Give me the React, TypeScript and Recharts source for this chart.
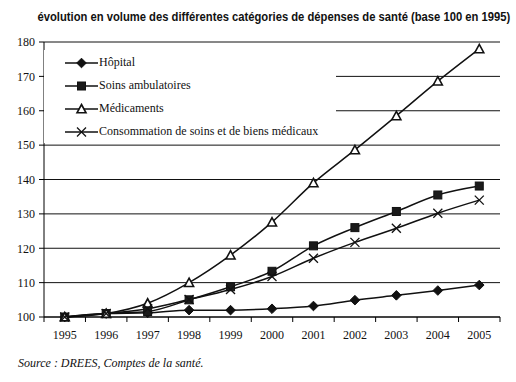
import React, { useLayoutEffect, useRef, useState } from 'react';
import { CartesianGrid, Legend, Line, LineChart, XAxis, YAxis } from 'recharts';

const YEARS = ['1995', '1996', '1997', '1998', '1999', '2000', '2001', '2002', '2003', '2004', '2005'];
const HOPITAL = [100, 101, 101.2, 102, 102, 102.4, 103.2, 104.9, 106.3, 107.7, 109.3];
const SOINS_AMBULATOIRES = [100, 101, 101.6, 105, 108.8, 113.3, 120.7, 126, 130.7, 135.5, 138.1];
const MEDICAMENTS = [100, 101, 104, 110, 118, 127.6, 139, 148.6, 158.5, 168.6, 178];
const CONSOMMATION = [100, 101, 102.4, 105.1, 108, 111.8, 117.1, 121.7, 125.8, 130.2, 134];
const Y_TICKS = [100, 110, 120, 130, 140, 150, 160, 170, 180];

const SERIES = [
  { key: 'hopital', name: 'Hôpital', marker: 'diamond' },
  { key: 'soins', name: 'Soins ambulatoires', marker: 'square' },
  { key: 'medicaments', name: 'Médicaments', marker: 'triangle' },
  { key: 'conso', name: 'Consommation de soins et de biens médicaux', marker: 'cross' },
];

const TITLE = 'évolution en volume des différentes catégories de dépenses de santé (base 100 en 1995)';

const data = YEARS.map((year, i) => ({
  year,
  hopital: HOPITAL[i],
  soins: SOINS_AMBULATOIRES[i],
  medicaments: MEDICAMENTS[i],
  conso: CONSOMMATION[i],
}));

const SERIF = '"Liberation Serif", "Times New Roman", serif';
const W = 516;
const H = 382;
const MARGIN = { top: 42, right: 16, left: 0, bottom: 35 };
const Y_AXIS_W = 44;
const PLOT_W = W - MARGIN.left - MARGIN.right - Y_AXIS_W;
const STEP = PLOT_W / YEARS.length;
const TITLE_W = 473;

function Marker({ kind, cx, cy }: { kind: string; cx: number; cy: number }) {
  if (cx == null || cy == null) return null;
  if (kind === 'diamond') {
    const r = 4.8;
    return <polygon points={`${cx},${cy - r} ${cx + r},${cy} ${cx},${cy + r} ${cx - r},${cy}`} fill="#111" stroke="#111" />;
  }
  if (kind === 'square') {
    return <rect x={cx - 4} y={cy - 4} width={8} height={8} fill="#1a1a1a" stroke="#111" />;
  }
  if (kind === 'triangle') {
    return (
      <polygon
        points={`${cx},${cy - 4.5} ${cx + 4.5},${cy + 3.8} ${cx - 4.5},${cy + 3.8}`}
        fill="#fff"
        stroke="#111"
        strokeWidth={1.6}
      />
    );
  }
  return (
    <g stroke="#111" strokeWidth={1.3}>
      <line x1={cx - 4.5} y1={cy - 4.5} x2={cx + 4.5} y2={cy + 4.5} />
      <line x1={cx - 4.5} y1={cy + 4.5} x2={cx + 4.5} y2={cy - 4.5} />
    </g>
  );
}

function YearTick(props: any) {
  const { x, y, payload, index } = props;
  const last = index === YEARS.length - 1;
  return (
    <g>
      <line x1={x - STEP / 2} y1={y} x2={x - STEP / 2} y2={y + 5} stroke="#000" />
      {last && <line x1={x + STEP / 2} y1={y} x2={x + STEP / 2} y2={y + 5} stroke="#000" />}
      <text x={x} y={y + 22} textAnchor="middle" fontFamily={SERIF} fontSize={12} fill="#111">
        {payload.value}
      </text>
    </g>
  );
}

function LegendBox() {
  return (
    <div style={{ background: '#fff', width: 292, height: 92, paddingTop: 1, fontFamily: SERIF, fontSize: 12, color: '#111' }}>
      {SERIES.map((s) => (
        <div key={s.key} style={{ display: 'flex', alignItems: 'center', height: 23, paddingLeft: 21 }}>
          <svg width={33} height={12} style={{ display: 'block' }}>
            <line x1={0} y1={6} x2={33} y2={6} stroke="#111" strokeWidth={1.3} />
            <Marker kind={s.marker} cx={16.5} cy={6} />
          </svg>
          <span style={{ marginLeft: 1, whiteSpace: 'nowrap' }}>{s.name}</span>
        </div>
      ))}
    </div>
  );
}

// the original title uses a narrow bold face; squeeze the regular one to the same width
function Title() {
  const ref = useRef<HTMLSpanElement>(null);
  const [scale, setScale] = useState(1);
  useLayoutEffect(() => {
    if (ref.current) setScale(TITLE_W / ref.current.offsetWidth);
  }, []);
  return (
    <div style={{ position: 'absolute', left: 0, top: 8, width: 527, textAlign: 'center', lineHeight: '16px' }}>
      <span
        ref={ref}
        style={{
          display: 'inline-block',
          transform: `scaleX(${scale})`,
          transformOrigin: 'center',
          fontFamily: '"Liberation Sans", Arial, sans-serif',
          fontWeight: 'bold',
          fontSize: 13,
          color: '#111',
          whiteSpace: 'nowrap',
        }}
      >
        {TITLE}
      </span>
    </div>
  );
}

export default function App() {
  return (
    <div style={{ position: 'fixed', left: 0, top: 0, width: W, height: H, background: '#fff', overflow: 'hidden' }}>
      <Title />
      <LineChart width={W} height={H} data={data} margin={MARGIN} style={{ position: 'absolute', left: 0, top: 0 }}>
        <CartesianGrid horizontal vertical={false} stroke="#111" strokeWidth={1} />
        <XAxis
          dataKey="year"
          padding={{ left: STEP / 2, right: STEP / 2 }}
          axisLine={{ stroke: '#000' }}
          tickLine={false}
          tickSize={0}
          tickMargin={0}
          interval={0}
          height={30}
          tick={<YearTick />}
        />
        <YAxis
          domain={[100, 180]}
          ticks={Y_TICKS}
          width={Y_AXIS_W}
          axisLine={{ stroke: '#000' }}
          tickLine={{ stroke: '#000' }}
          tickSize={5}
          tickMargin={4}
          tick={{ fontFamily: SERIF, fontSize: 12, fill: '#111' }}
        />
        <YAxis yAxisId="right" orientation="right" domain={[100, 180]} width={0} tick={false} tickLine={false} axisLine={{ stroke: '#000' }} />
        <Legend
          layout="vertical"
          align="center"
          verticalAlign="middle"
          content={<LegendBox />}
          wrapperStyle={{ left: 44, top: 50, width: 292 }}
        />
        {SERIES.map((s) => (
          <Line
            key={s.key}
            dataKey={s.key}
            name={s.name}
            type="monotone"
            stroke="#111"
            strokeWidth={1.5}
            isAnimationActive={false}
            dot={(p: any) => <Marker key={`${s.key}-${p.index}`} kind={s.marker} cx={p.cx} cy={p.cy} />}
            activeDot={false}
          />
        ))}
      </LineChart>
      <div
        style={{
          position: 'absolute',
          left: 18,
          top: 356,
          fontFamily: SERIF,
          fontStyle: 'italic',
          fontSize: 12,
          lineHeight: '14px',
          color: '#111',
          whiteSpace: 'nowrap',
        }}
      >
        Source : DREES, Comptes de la santé.
      </div>
    </div>
  );
}
